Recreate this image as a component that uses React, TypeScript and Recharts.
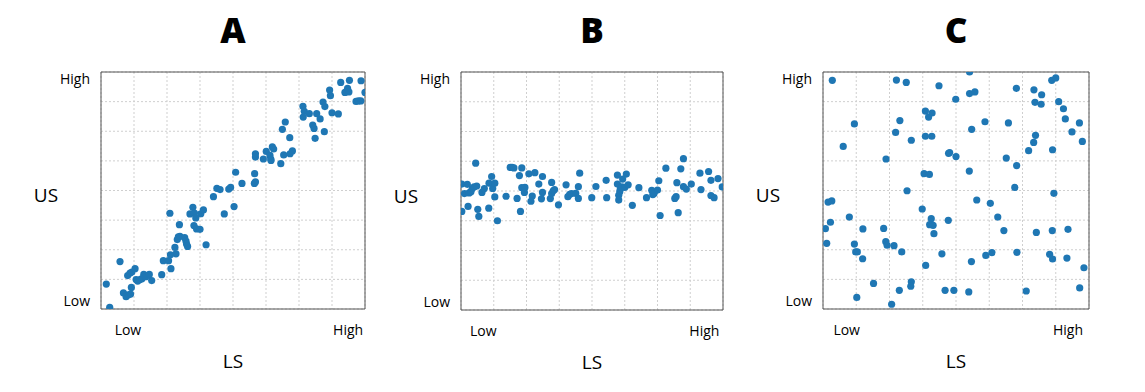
import React from "react";
import { ScatterChart, Scatter, XAxis, YAxis, CartesianGrid, ReferenceArea, Label } from "recharts";

const FONT = '"Open Sans", "Noto Sans", sans-serif';
const DOT = "#1f77b4";

// both axes run 0..100, grid every eighth
const gridTicks = [0, 12.5, 25, 37.5, 50, 62.5, 75, 87.5, 100];
const tickNames = ["Low", "High"];
const yLabelTicks = [3.4, 97];
const aXLabelTicks = [10.2, 93.6];
const bXLabelTicks = [8.5, 92.9];
const cXLabelTicks = [8.9, 92.1];

// A: strong positive relation
const aLS = [2.0, 3.3, 7.2, 8.5, 9.5, 10.4, 11.2, 11.5, 10.1, 11.0, 11.7, 12.9, 13.3, 13.9, 14.8, 15.5, 16.2, 17.0, 18.3, 19.2,
  23.0, 23.6, 25.6, 26.3, 26.5, 28.0, 28.4, 26.1, 29.7, 28.9, 29.3, 29.9, 31.7, 32.2, 32.4, 32.8, 33.7, 34.8, 35.4, 35.9,
  35.2, 36.2, 37.5, 37.8, 38.8, 39.8, 42.6, 43.9, 45.1, 46.7, 48.4, 49.1, 50.4, 51.0, 53.4, 58.1, 58.5, 58.2, 58.5, 58.5,
  61.5, 62.6, 64.0, 64.3, 64.9, 65.4, 64.4, 68.1, 69.2, 71.6, 72.5, 68.7, 69.8, 71.5, 76.5, 77.0, 76.6, 78.9, 80.2, 80.7,
  81.1, 81.7, 83.0, 84.1, 84.8, 84.6, 86.6, 86.9, 87.5, 89.9, 90.8, 92.4, 93.4, 94.1, 93.9, 96.6, 97.5, 98.4, 98.5, 100];
const aUS = [10.5, 0.7, 20.0, 6.8, 5.2, 6.0, 6.3, 9.1, 14.1, 15.2, 15.6, 17.0, 12.4, 11.8, 12.4, 12.8, 14.6, 13.6, 14.6, 12.0,
  14.5, 20.4, 20.4, 22.9, 17.0, 26.0, 23.3, 40.4, 35.6, 29.3, 30.4, 30.7, 30.1, 28.6, 27.4, 26.4, 40.1, 42.9, 40.5, 38.4,
  35.2, 33.8, 33.6, 40.2, 41.8, 27.1, 47.4, 50.9, 50.4, 40.1, 50.6, 51.3, 43.2, 57.7, 53.0, 53.0, 53.6, 57.1, 65.5, 64.1,
  63.3, 66.5, 64.8, 63.3, 68.4, 67.5, 62.7, 61.3, 65.0, 65.5, 66.7, 75.8, 78.9, 72.3, 85.5, 83.4, 81.0, 82.4, 77.6, 76.2,
  72.0, 82.4, 80.2, 87.3, 85.4, 74.8, 92.4, 90.0, 82.8, 82.3, 95.6, 91.4, 93.1, 96.5, 91.6, 87.6, 87.8, 87.8, 96.3, 91.4];

// B: flat band around the middle
const bLS = [0.3, 0.3, 1.3, 2.4, 2.7, 3.1, 3.8, 4.3, 5.0, 5.6, 6.0, 6.4, 6.8, 8.0, 8.9, 10.6, 10.7, 11.7, 12.1, 12.9,
  12.9, 13.9, 17.2, 18.8, 19.5, 20.2, 21.4, 22.3, 22.7, 23.2, 23.2, 24.4, 24.2, 25.9, 27.2, 26.7, 28.2, 29.7, 31.1, 31.1,
  30.7, 34.1, 34.6, 34.6, 35.2, 35.7, 37.2, 40.1, 40.8, 41.5, 42.2, 43.8, 44.8, 44.8, 45.3, 49.9, 51.5, 55.4, 55.6, 59.7,
  59.7, 60.2, 60.2, 60.6, 60.8, 61.4, 61.7, 62.5, 63.1, 63.8, 65.4, 67.9, 70.8, 72.8, 73.2, 73.7, 75.0, 75.5, 76.0, 78.2,
  81.6, 82.1, 82.4, 82.9, 83.9, 84.9, 84.9, 86.0, 87.9, 91.2, 91.6, 94.5, 95.4, 95.4, 96.6, 98.1, 99.7];
const bUS = [52.9, 41.4, 48.9, 52.8, 43.5, 49.2, 49.7, 51.1, 51.7, 61.7, 52.1, 42.3, 39.3, 49.4, 51.0, 42.8, 53.3, 56.1, 51.1, 53.3,
  47.5, 37.5, 47.8, 59.9, 59.9, 59.7, 46.9, 56.5, 41.4, 59.7, 51.4, 51.5, 49.4, 57.2, 47.9, 45.7, 57.7, 52.9, 56.1, 49.4,
  46.7, 46.8, 53.6, 48.9, 50.1, 50.6, 44.2, 52.6, 47.6, 48.6, 48.9, 49.0, 51.8, 46.9, 57.5, 47.2, 51.9, 54.5, 47.2, 56.7,
  52.9, 48.2, 46.2, 49.7, 50.8, 51.7, 55.0, 51.5, 57.1, 52.6, 44.0, 51.4, 47.2, 50.3, 48.5, 48.9, 50.4, 54.3, 39.7, 59.6,
  46.9, 47.6, 53.5, 40.9, 59.3, 63.6, 51.8, 50.8, 52.9, 57.5, 50.6, 58.2, 54.5, 48.1, 47.2, 55.2, 51.7];

// C: no relation
const cLS = [3.5, 27.6, 31.3, 43.6, 55.1, 55.1, 57.1, 49.9, 72.7, 79.3, 82.2, 79.7, 82.0, 86.0, 87.5, 88.6, 90.4, 91.1, 96.4, 93.6,
  97.5, 11.8, 28.9, 27.3, 33.2, 38.5, 39.7, 41.0, 38.5, 40.9, 60.9, 69.7, 55.9, 7.6, 23.7, 47.2, 47.6, 50.0, 55.0, 68.9,
  72.8, 77.3, 79.2, 79.9, 86.3, 38.0, 40.0, 31.6, 72.1, 86.8, 1.9, 3.3, 57.8, 62.9, 9.9, 37.3, 40.7, 47.1, 65.7, 2.8,
  0.9, 15.0, 22.8, 40.1, 41.4, 41.7, 68.0, 80.2, 86.2, 92.1, 1.4, 11.8, 23.6, 24.1, 26.7, 12.3, 12.9, 14.9, 29.6, 44.7,
  61.2, 63.5, 72.9, 85.2, 86.3, 91.7, 55.8, 38.6, 98.1, 19.0, 33.2, 33.0, 28.7, 45.9, 49.2, 54.8, 76.4, 96.5, 12.7, 25.8];
const cUS = [96.5, 96.6, 95.6, 94.2, 100, 90.9, 91.6, 88.5, 93.1, 92.5, 90.4, 87.2, 86.4, 96.5, 97.5, 87.5, 84.5, 80.2, 78.5, 74.7,
  70.7, 78.1, 79.5, 74.5, 71.2, 83.5, 81.0, 82.7, 72.9, 72.9, 79.0, 78.5, 75.8, 68.6, 63.3, 65.7, 66.0, 64.3, 58.2, 63.7,
  60.5, 66.8, 70.3, 73.3, 67.2, 57.1, 56.8, 49.9, 51.3, 48.8, 45.1, 45.6, 46.0, 44.6, 38.8, 42.2, 38.1, 37.4, 38.8, 36.6,
  33.9, 33.8, 34.0, 35.6, 35.3, 31.8, 33.1, 32.3, 33.1, 33.6, 27.7, 27.4, 28.4, 26.9, 26.7, 24.1, 24.1, 21.2, 24.1, 23.3,
  22.6, 23.8, 23.9, 23.1, 21.1, 21.5, 20.0, 18.4, 17.4, 10.8, 11.5, 9.6, 7.9, 7.9, 7.9, 7.2, 7.6, 8.9, 4.9, 2.0];

const dot = (p: any) => <circle cx={p.cx} cy={p.cy} r={3.6} fill={DOT} />;

const textStyle = { fill: "#000", fontFamily: FONT };

type PanelProps = {
  title: string;
  ls: number[];
  us: number[];
  xLabelTicks: number[];
  plotLeft: number;
  plotRight: number;
  plotBottom: number;
};

function Panel({ title, ls, us, xLabelTicks, plotLeft, plotRight, plotBottom }: PanelProps) {
  const data = ls.map((x, i) => ({ ls: x, us: us[i] }));
  const plotW = plotRight - plotLeft;
  const width = plotW + 101 + 17;
  const xAxisH = 60;

  return (
    <div style={{ position: "absolute", left: plotLeft - 101, top: 0, width, height: 392 }}>
      <div
        style={{
          position: "absolute",
          left: 101,
          width: plotW,
          top: 13,
          textAlign: "center",
          fontFamily: FONT,
          fontWeight: 800,
          fontSize: 35,
          lineHeight: "34px",
          color: "#000",
        }}
      >
        {title}
      </div>
      <ScatterChart
        width={width}
        height={392}
        margin={{ top: 72, right: 17, bottom: 392 - plotBottom - xAxisH, left: 31 }}
      >
        <CartesianGrid
          verticalValues={gridTicks}
          horizontalValues={gridTicks}
          stroke="#cfcfcf"
          strokeDasharray="2 2"
        />
        <XAxis
          type="number"
          dataKey="ls"
          domain={[0, 100]}
          allowDataOverflow
          ticks={xLabelTicks}
          interval={0}
          tickFormatter={(_v: number, i: number) => tickNames[i]}
          axisLine={false}
          tickLine={false}
          tickSize={0}
          tickMargin={16}
          height={xAxisH}
          tick={{ ...textStyle, fontSize: 14 }}
        >
          <Label
            content={(p: any) => (
              <text
                x={p.viewBox.x + p.viewBox.width / 2}
                y={p.viewBox.y + 59}
                textAnchor="middle"
                fontSize={19}
                style={textStyle}
              >
                LS
              </text>
            )}
          />
        </XAxis>
        <YAxis
          type="number"
          dataKey="us"
          domain={[0, 100]}
          allowDataOverflow
          ticks={yLabelTicks}
          interval={0}
          tickFormatter={(_v: number, i: number) => tickNames[i]}
          axisLine={false}
          tickLine={false}
          tickSize={0}
          tickMargin={11}
          width={70}
          tick={{ ...textStyle, fontSize: 14 }}
        >
          <Label
            content={(p: any) => (
              <text
                x={p.viewBox.x + 15}
                y={p.viewBox.y + p.viewBox.height / 2 + 11.5}
                textAnchor="middle"
                fontSize={19}
                style={textStyle}
              >
                US
              </text>
            )}
          />
        </YAxis>
        <Scatter data={data} dataKey="us" shape={dot} isAnimationActive={false} />
        <ReferenceArea
          x1={0}
          x2={100}
          y1={0}
          y2={100}
          fill="none"
          stroke="#555"
          strokeWidth={1}
          ifOverflow="visible"
        />
      </ScatterChart>
    </div>
  );
}

export default function App() {
  return (
    <div style={{ position: "absolute", left: 0, top: 0, width: 1145, height: 392, background: "#fff" }}>
      <Panel title="A" ls={aLS} us={aUS} xLabelTicks={aXLabelTicks} plotLeft={101} plotRight={365} plotBottom={309} />
      <Panel title="B" ls={bLS} us={bUS} xLabelTicks={bXLabelTicks} plotLeft={461} plotRight={723} plotBottom={310} />
      <Panel title="C" ls={cLS} us={cUS} xLabelTicks={cXLabelTicks} plotLeft={823} plotRight={1089} plotBottom={309} />
    </div>
  );
}
